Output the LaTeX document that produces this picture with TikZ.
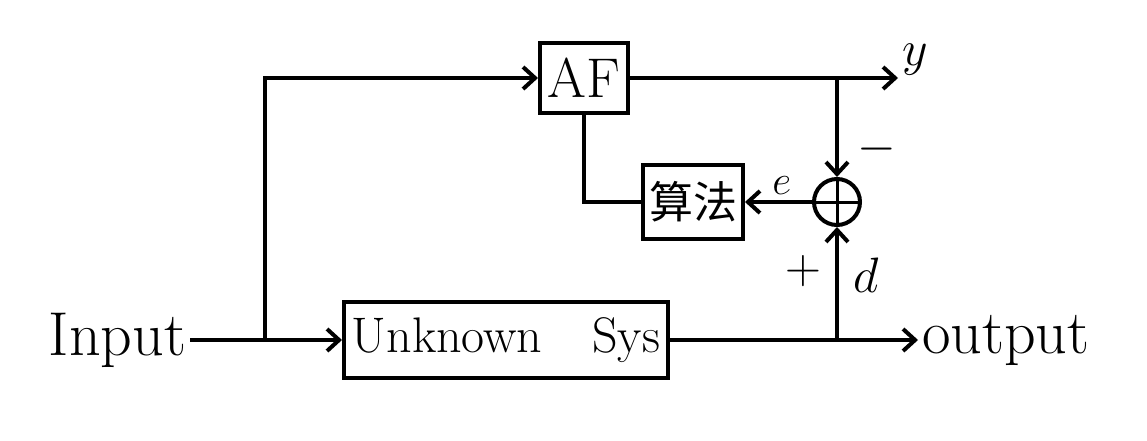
\documentclass[tikz,border=0pt]{standalone}
\usepackage{fontspec}
\newfontfamily\cjk{Noto Sans CJK SC}
\usetikzlibrary{arrows.meta,positioning,calc}

\begin{document}
\begin{tikzpicture}[x=0.5pt,y=-0.5pt,line width=2pt,
		>={Straight Barb[length=6pt,width=11pt,line width=2pt]},
		blk/.style={draw,line width=2pt,inner sep=0pt},
		lbl/.style={inner sep=1pt}]
		\useasboundingbox (0,0) rectangle (1147,440);
		%blocks
		\node[blk,minimum width=44pt,minimum height=35pt] (af) at (584,78) {\fontsize{28}{32}\selectfont AF};
		\node[blk,minimum width=50pt,minimum height=37pt] (alg) at (693,202) {\fontsize{22}{26}\selectfont\cjk 算法};
		\node[blk,circle,minimum size=23pt] (sum) at (837,202) {};
		\draw[line width=1.5pt] (sum.north) -- (sum.south) (sum.west) -- (sum.east);
		\node[blk,minimum width=162pt,minimum height=38pt] (sys) at (506,340) {\fontsize{25}{28}\selectfont Unknown\quad Sys};
		%texts
		\node[lbl,anchor=east] (input) at (190,340) {\fontsize{31}{36}\selectfont Input};
		\node[lbl,anchor=west] (output) at (918,340) {\fontsize{31}{36}\selectfont output};
		\node[lbl,anchor=west] (ylab) at (898,60) {\fontsize{48}{52}\selectfont $y$};
		%branch points
		\coordinate (br1) at (265,340);
		\coordinate (br2) at (af.east -| sum.north);
		\coordinate (br3) at (sys.east -| sum.south);
		%connectors
		\draw[->] (input) -- (sys);
		\draw[->] (br1) |- (af.west);
		\draw[->] (af.east) -- (af.east -| ylab.west);
		\draw[->] (br2) -- (sum.north) node[pos=0.72,right=8pt,lbl] (minus) {\fontsize{24}{28}\selectfont $-$};
		\draw[->] (sum.west) -- (alg.east) node[pos=0.45,above=2pt,lbl] (elab) {\fontsize{22}{26}\selectfont $e$};
		\draw (af.south) |- (alg.west);
		\draw[->] (sys.east) -- (output.west);
		\draw[->] (br3) -- (sum.south);
		\node[lbl,left=6pt of sum.south,yshift=-22pt] (plus) {\fontsize{24}{28}\selectfont $+$};
		\node[lbl,right=6pt of sum.south,yshift=-24pt] (dlab) {\fontsize{30}{34}\selectfont $d$};
\end{tikzpicture}
\end{document}
